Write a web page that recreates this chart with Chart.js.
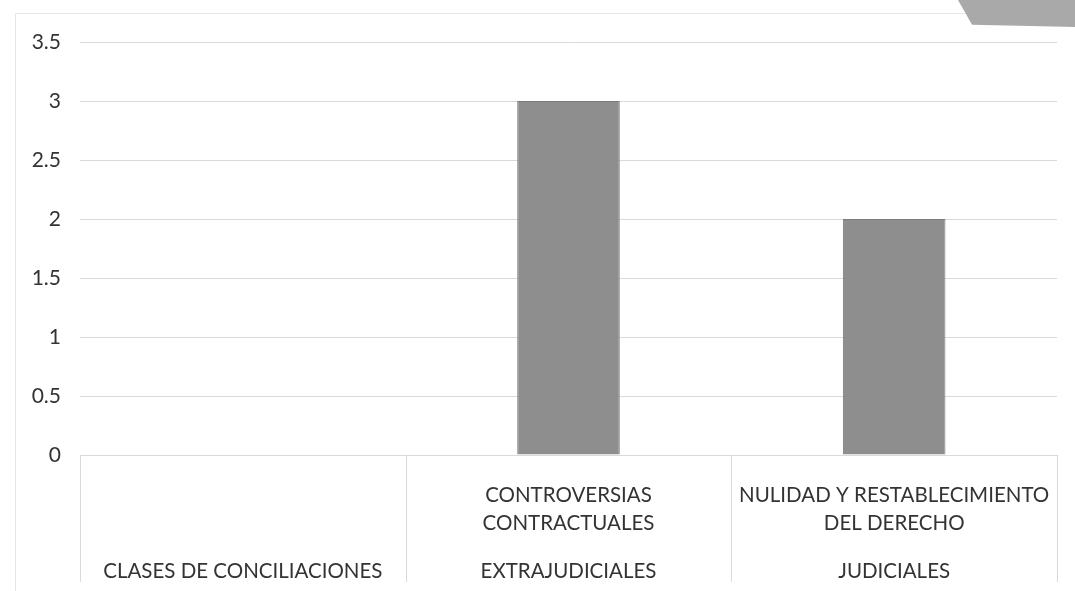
<!DOCTYPE html>
<html>
<head>
<meta charset="utf-8">
<script src="https://cdn.jsdelivr.net/npm/chart.js@4/dist/chart.umd.min.js"></script>
<style>
    html, body { margin: 0; padding: 0; background: #fff; }
    #wrap { position: relative; width: 1075px; height: 591px; overflow: hidden; }
    #frame { position: absolute; left: 15px; top: 13px; right: -5px; bottom: -5px;
             border-left: 1px solid #e6e6e6; border-top: 1px solid #e6e6e6; pointer-events: none; }
    #corner { position: absolute; left: 958px; top: 0; width: 117px; height: 27px;
              background: #a9a9a9; clip-path: polygon(0 0, 100% 0, 100% 100%, 12% 92%); }
</style>
</head>
<body>
<div id="wrap">
    <canvas id="chart" width="1075" height="591"></canvas>
    <div id="frame"></div>
    <div id="corner"></div>
</div>
<script>
// Données
const groups = ['CLASES DE CONCILIACIONES', 'EXTRAJUDICIALES', 'JUDICIALES'];
const categories = [[''], ['CONTROVERSIAS', 'CONTRACTUALES'], ['NULIDAD Y RESTABLECIMIENTO', 'DEL DERECHO']];
const values = [null, 3, 2];
const yMin = 0;
const yMax = 3.5;
const yStep = 0.5;

const textColor = '#333333';
const lineColor = '#dadada';
const font = { family: 'Lato', size: 20.5 };

// Lignes verticales du tableau des catégories
const dividers = {
    id: 'dividers',
    afterDraw(chart) {
        const xs = chart.scales.x;
        const x2 = chart.scales.x2;
        const ctx = chart.ctx;
        ctx.save();
        ctx.strokeStyle = lineColor;
        ctx.lineWidth = 1;
        for (let i = 0; i <= categories.length; i++) {
            const px = Math.round(xs.getPixelForValue(i - 0.5)) + 0.5;
            ctx.beginPath();
            ctx.moveTo(px, chart.chartArea.bottom);
            ctx.lineTo(px, x2.bottom - 8);
            ctx.stroke();
        }
        ctx.restore();
    }
};

function noSidePadding(scale) {
    scale.paddingLeft = 0;
    scale.paddingRight = 0;
}

new Chart(document.getElementById('chart').getContext('2d'), {
    type: 'bar',
    data: {
        labels: categories,
        datasets: [{
            data: values,
            backgroundColor: '#8e8e8e',
            borderColor: '#7c7c7c',
            borderWidth: 1,
            barPercentage: 0.315,
            categoryPercentage: 1
        }]
    },
    options: {
        responsive: false,
        animation: false,
        layout: { padding: { top: 42, right: 18, bottom: 1, left: 0 } },
        plugins: {
            legend: { display: false },
            tooltip: { enabled: false }
        },
        scales: {
            y: {
                min: yMin,
                max: yMax,
                ticks: {
                    stepSize: yStep,
                    color: textColor,
                    font: { family: 'Lato', size: 21 },
                    padding: 19,
                    callback: v => String(v)
                },
                grid: { color: lineColor, drawTicks: false },
                border: { display: false },
                afterFit: scale => { scale.width = 80; }
            },
            x: {
                weight: 0,
                grid: { display: false },
                border: { color: lineColor },
                ticks: { color: textColor, font: { ...font, lineHeight: 1.35 }, padding: 19, maxRotation: 0, autoSkip: false },
                afterFit: scale => { scale.height = 90; noSidePadding(scale); }
            },
            x2: {
                type: 'category',
                position: 'bottom',
                weight: 1,
                labels: groups,
                offset: true,
                grid: { display: false },
                border: { display: false },
                ticks: { color: textColor, font: { ...font, lineHeight: 1.35 }, padding: 5, maxRotation: 0, autoSkip: false },
                afterFit: scale => { scale.height = 45; noSidePadding(scale); }
            }
        }
    },
    plugins: [dividers]
});
</script>
</body>
</html>
